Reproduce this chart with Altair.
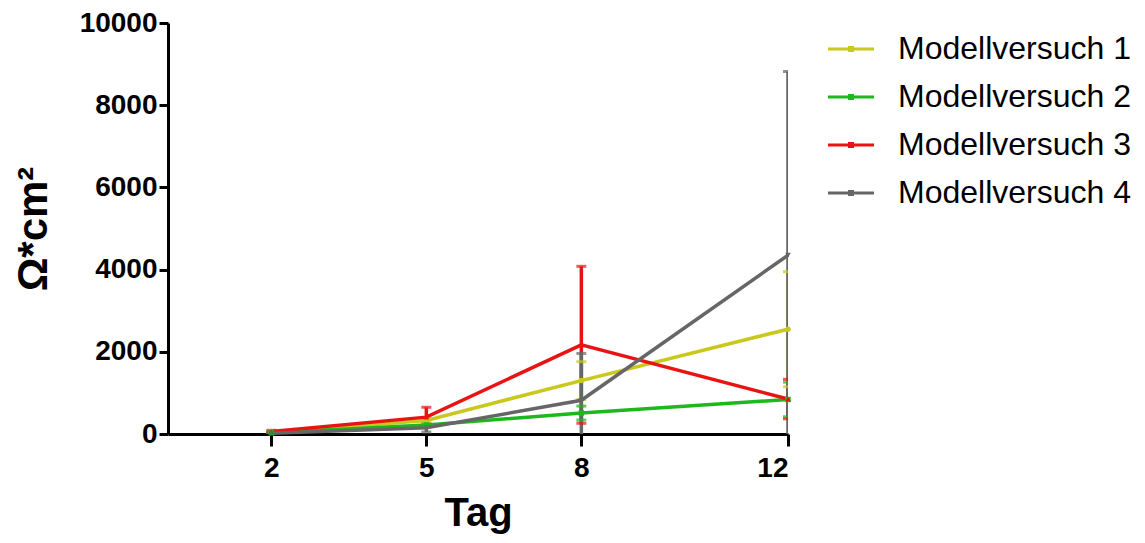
import altair as alt
import pandas as pd

days = [2, 5, 8, 12]
series_names = ["Modellversuch 1", "Modellversuch 2", "Modellversuch 3", "Modellversuch 4"]
colors = ["#c8c81e", "#1cb81c", "#e81414", "#666666"]
shapes = ["circle", "square", "triangle-up", "triangle-down"]

mean1 = [40, 330, 1300, 2550]
sd1 = [20, 60, 460, 1400]
mean2 = [30, 220, 510, 840]
sd2 = [15, 40, 170, 420]
mean3 = [60, 410, 2170, 850]
sd3 = [30, 240, 1910, 480]
mean4 = [20, 150, 820, 4350]
sd4 = [15, 100, 1140, 4470]

means = [mean1, mean2, mean3, mean4]
sds = [sd1, sd2, sd3, sd4]

rows = []
for name, m, s in zip(series_names, means, sds):
    for d, mv, sv in zip(days, m, s):
        rows.append({"series": name, "day": d, "mean": mv, "lo": mv - sv, "hi": mv + sv})
df = pd.DataFrame(rows)

font = "Liberation Sans"

x = alt.X("day:Q", scale=alt.Scale(domain=[0, 12], nice=False, zero=False),
          axis=alt.Axis(values=days, title="Tag", format="d"))
y_scale = alt.Scale(domain=[0, 10000], nice=False)
y = alt.Y("mean:Q", scale=y_scale,
          axis=alt.Axis(values=[0, 2000, 4000, 6000, 8000, 10000], title="Ω*cm²", format="d"))

color = alt.Color("series:N", scale=alt.Scale(domain=series_names, range=colors),
                  legend=alt.Legend(title=None, orient="none", legendX=660, legendY=3,
                                    symbolType="M-1,-0.07H1V0.07H-1ZM-0.13,-0.13H0.13V0.13H-0.13Z",
                                    symbolSize=2116, symbolStrokeWidth=0, symbolOpacity=1,
                                    labelFontSize=32, labelFont=font, labelColor="black",
                                    labelLimit=400, labelOffset=24, rowPadding=9, padding=0))

base = alt.Chart(df)

err = base.mark_rule(strokeWidth=3.5, clip=True).encode(
    x="day:Q", y=alt.Y("lo:Q", scale=y_scale), y2="hi:Q", color=color)
cap_hi = base.mark_tick(orient="horizontal", size=10, thickness=3, clip=True).encode(
    x="day:Q", y=alt.Y("hi:Q", scale=y_scale), color=color)
cap_lo = base.mark_tick(orient="horizontal", size=10, thickness=3, clip=True).encode(
    x="day:Q", y=alt.Y("lo:Q", scale=y_scale), color=color)
line = base.mark_line(strokeWidth=3.5).encode(x=x, y=y, color=color)

pt_layers = []
for name, shp in zip(series_names, shapes):
    pt_layers.append(
        base.transform_filter(alt.datum.series == name)
        .mark_point(filled=True, size=30, opacity=1, shape=shp)
        .encode(x="day:Q", y="mean:Q", color=color)
    )

chart = alt.layer(err, cap_hi, cap_lo, line, *pt_layers).properties(
    width=620, height=411,
    autosize=alt.AutoSizeParams(type="none"),
    padding={"left": 160, "top": 15, "right": 349, "bottom": 101},
).configure_view(stroke=None).configure_axis(
    grid=False, domainColor="black", domainWidth=3, tickColor="black", tickWidth=3,
    labelFont=font, labelFontSize=28, labelFontWeight="bold", labelColor="black",
    titleFont=font, titleFontWeight="bold", titleColor="black",
).configure_axisY(
    tickSize=9, labelPadding=2, titleFontSize=42, titlePadding=24
).configure_axisX(
    tickSize=12, labelPadding=8, titleFontSize=40, titlePadding=11
)

chart.save("out.html", embed_options={"renderer": "svg", "actions": False})
